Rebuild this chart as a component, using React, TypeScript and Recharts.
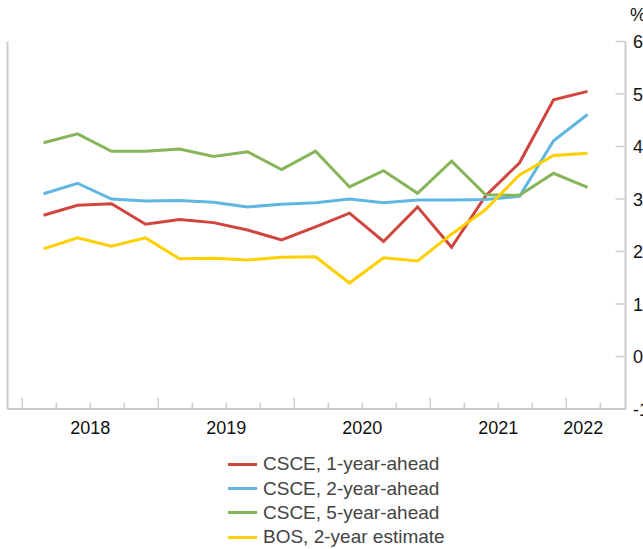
import { LineChart, Line, XAxis, YAxis, Legend } from "recharts";

const surveyDates = [
  "Feb 2018", "May 2018", "Aug 2018", "Nov 2018",
  "Feb 2019", "May 2019", "Aug 2019", "Nov 2019",
  "Feb 2020", "May 2020", "Aug 2020", "Nov 2020",
  "Feb 2021", "May 2021", "Aug 2021", "Nov 2021",
  "Feb 2022",
];
const csce1y = [2.69, 2.88, 2.91, 2.52, 2.61, 2.55, 2.41, 2.22, 2.47, 2.73, 2.19, 2.85, 2.08, 3.06, 3.69, 4.89, 5.05];
const csce2y = [3.1, 3.3, 3.0, 2.96, 2.97, 2.94, 2.85, 2.9, 2.93, 3.0, 2.93, 2.98, 2.98, 2.99, 3.05, 4.11, 4.61];
const csce5y = [4.07, 4.24, 3.91, 3.91, 3.95, 3.81, 3.9, 3.56, 3.91, 3.23, 3.54, 3.11, 3.72, 3.08, 3.07, 3.49, 3.22];
const bos2y = [2.05, 2.26, 2.1, 2.26, 1.86, 1.87, 1.84, 1.89, 1.9, 1.4, 1.88, 1.82, 2.33, 2.8, 3.46, 3.83, 3.87];

const seriesNames = ["CSCE, 1-year-ahead", "CSCE, 2-year-ahead", "CSCE, 5-year-ahead", "BOS, 2-year estimate"];

const yTicks = [-1, 0, 1, 2, 3, 4, 5, 6];
const quarterTicks = [
  2018, 2018.25, 2018.5, 2018.75, 2019, 2019.25, 2019.5, 2019.75,
  2020, 2020.25, 2020.5, 2020.75, 2021, 2021.25, 2021.5, 2021.75,
  2022, 2022.25,
];
const yearLabels = ["2018", "2019", "2020", "2021", "2022"];
const yearLabelPos = [2018.5, 2019.5, 2020.5, 2021.5, 2022.125];

const MONTHS = ["Jan", "Feb", "Mar", "Apr", "May", "Jun", "Jul", "Aug", "Sep", "Oct", "Nov", "Dec"];
const toYear = (d: string) => {
  const [m, y] = d.split(" ");
  return Number(y) + (MONTHS.indexOf(m) + 0.875) / 12;
};

const data = surveyDates.map((d, i) => ({
  date: d,
  t: toYear(d),
  csce1y: csce1y[i],
  csce2y: csce2y[i],
  csce5y: csce5y[i],
  bos2y: bos2y[i],
}));

const FONT = "'Liberation Sans', Arial, Helvetica, sans-serif";
const GREY = "#cccccc";
const PLOT_LEFT = 7.5;
const PLOT_RIGHT = 625.5;
const PLOT_BOTTOM = 409;
const X_DOMAIN: [number, number] = [2017.8912, 2022.4353];

const QuarterTick = (props: any) => {
  const { x, payload } = props;
  const tall = Number.isInteger(payload.value);
  return (
    <line x1={x} x2={x} y1={PLOT_BOTTOM} y2={PLOT_BOTTOM - (tall ? 11 : 6)} stroke={GREY} strokeWidth={1.5} />
  );
};

const YearTick = (props: any) => {
  const { x, payload } = props;
  const idx = yearLabelPos.indexOf(payload.value);
  return (
    <text x={x} y={PLOT_BOTTOM + 24.5} textAnchor="middle" fontSize={18} fontFamily={FONT} fill="#111">
      {yearLabels[idx]}
    </text>
  );
};

const LeftTick = (props: any) => {
  const { y } = props;
  return <line x1={PLOT_LEFT} x2={PLOT_LEFT + 10} y1={y} y2={y} stroke={GREY} strokeWidth={1.5} />;
};

const RightTick = (props: any) => {
  const { y, payload } = props;
  return (
    <g>
      <line x1={PLOT_RIGHT - 10} x2={PLOT_RIGHT} y1={y} y2={y} stroke={GREY} strokeWidth={1.5} />
      <text x={633} y={y + 6.5} fontSize={18} fontFamily={FONT} fill="#111">
        {payload.value}
      </text>
    </g>
  );
};

const renderLegend = (props: any) => {
  const items = [...(props.payload || [])].sort(
    (a: any, b: any) => seriesNames.indexOf(a.value) - seriesNames.indexOf(b.value)
  );
  return (
    <div style={{ fontFamily: FONT, fontSize: 19, color: "#444" }}>
      {items.map((entry: any) => (
        <div key={entry.value} style={{ display: "flex", alignItems: "center", height: 24.4 }}>
          <span style={{ display: "inline-block", width: 29, height: 3, background: entry.color, marginRight: 6 }} />
          <span>{entry.value}</span>
        </div>
      ))}
    </div>
  );
};

const App = () => {
  return (
    <div style={{ position: "absolute", left: 0, top: 0, background: "#fff" }}>
      <LineChart
        width={643}
        height={549}
        data={data}
        margin={{ top: 41.5, right: 16.5, bottom: 138, left: 6.5 }}
      >
        <XAxis
          xAxisId="q"
          dataKey="t"
          type="number"
          domain={X_DOMAIN}
          allowDataOverflow
          ticks={quarterTicks}
          interval={0}
          height={1}
          axisLine={{ stroke: GREY, strokeWidth: 2 }}
          tickLine={false}
          tick={<QuarterTick />}
        />
        <XAxis
          xAxisId="yr"
          dataKey="t"
          type="number"
          domain={X_DOMAIN}
          allowDataOverflow
          ticks={yearLabelPos}
          interval={0}
          height={1}
          axisLine={false}
          tickLine={false}
          tick={<YearTick />}
        />
        <YAxis
          yAxisId="left"
          orientation="left"
          type="number"
          domain={[-1, 6]}
          ticks={yTicks}
          interval={0}
          width={1}
          axisLine={{ stroke: GREY, strokeWidth: 2 }}
          tickLine={false}
          tick={<LeftTick />}
        />
        <YAxis
          yAxisId="right"
          orientation="right"
          type="number"
          domain={[-1, 6]}
          ticks={yTicks}
          interval={0}
          width={1}
          axisLine={{ stroke: GREY, strokeWidth: 2 }}
          tickLine={false}
          tick={<RightTick />}
          label={{
            value: "%",
            content: () => (
              <text x={630} y={20.5} fontSize={18} fontFamily={FONT} fill="#111">
                %
              </text>
            ),
          }}
        />
        <Line xAxisId="q" yAxisId="right" type="linear" dataKey="csce1y" name={seriesNames[0]} stroke="#d1453f" strokeWidth={3} dot={false} isAnimationActive={false} />
        <Line xAxisId="q" yAxisId="right" type="linear" dataKey="csce2y" name={seriesNames[1]} stroke="#5fb6e1" strokeWidth={3} dot={false} isAnimationActive={false} />
        <Line xAxisId="q" yAxisId="right" type="linear" dataKey="csce5y" name={seriesNames[2]} stroke="#87b65a" strokeWidth={3} dot={false} isAnimationActive={false} />
        <Line xAxisId="q" yAxisId="right" type="linear" dataKey="bos2y" name={seriesNames[3]} stroke="#fed000" strokeWidth={3} dot={false} isAnimationActive={false} />
        <Legend
          layout="vertical"
          align="center"
          verticalAlign="middle"
          content={renderLegend}
          wrapperStyle={{ left: 228, top: 452, width: 260 }}
        />
      </LineChart>
    </div>
  );
};

export default App;
